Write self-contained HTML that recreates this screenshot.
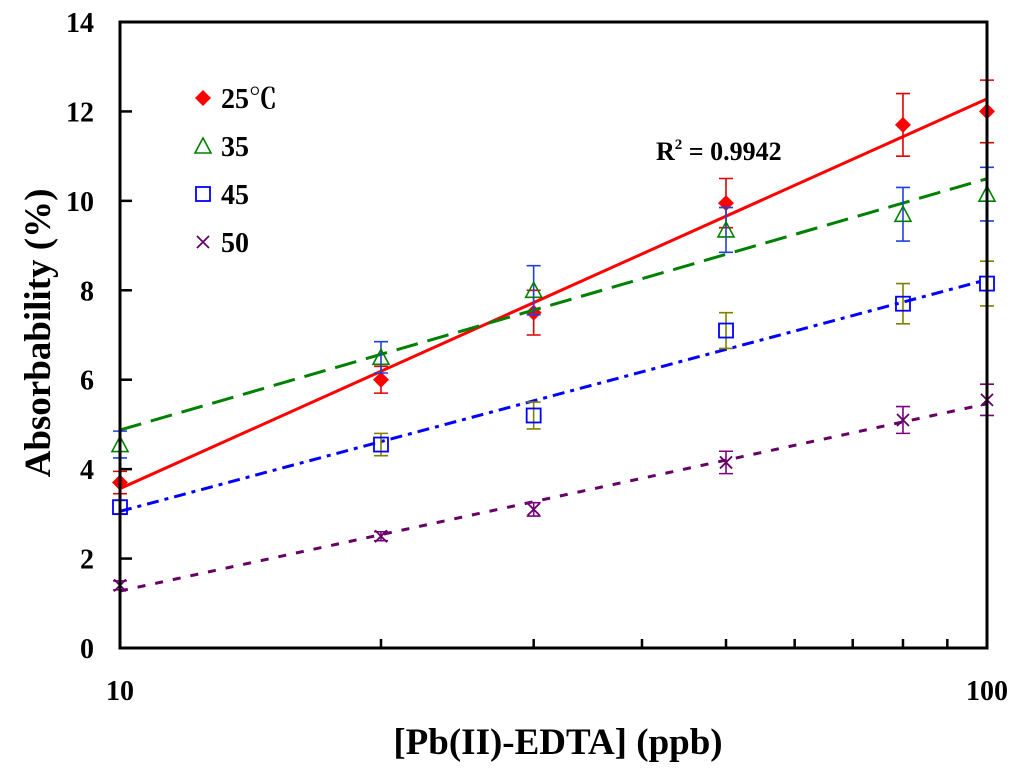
<!DOCTYPE html>
<html><head><meta charset="utf-8"><style>
body{margin:0;background:#fff;}
svg text{font-family:"Liberation Serif","Noto Serif CJK SC",serif;font-weight:bold;}
</style></head><body>
<svg id="chart" width="1024" height="774" viewBox="0 0 1024 774" xmlns="http://www.w3.org/2000/svg">
<g id="grid"></g>
<g id="marks"></g>
<g id="axes"></g>
<text x="558" y="754" text-anchor="middle" font-size="37">[Pb(II)-EDTA] (ppb)</text>
<text transform="translate(50,333) rotate(-90)" text-anchor="middle" font-size="37">Absorbability (%)</text>
<text x="656" y="160" font-size="26">R<tspan font-size="15" dy="-11">2</tspan><tspan dy="11"> = 0.9942</tspan></text>
<g id="legend"></g>
</svg>
<script>
const xValues = [10, 20, 30, 50, 80, 100];
const s25 = [3.7, 6.0, 7.5, 9.95, 11.7, 12.0];
const e25 = [0.25, 0.3, 0.5, 0.55, 0.7, 0.7];
const s35 = [4.55, 6.5, 8.0, 9.35, 9.7, 10.15];
const e35 = [0.3, 0.35, 0.55, 0.5, 0.6, 0.6];
const s45 = [3.15, 4.55, 5.2, 7.1, 7.7, 8.15];
const e45 = [0.15, 0.25, 0.3, 0.4, 0.45, 0.5];
const s50 = [1.4, 2.5, 3.1, 4.15, 5.1, 5.55];
const e50 = [0.1, 0.1, 0.15, 0.25, 0.3, 0.35];
const yTicks = [0, 2, 4, 6, 8, 10, 12, 14];
const xTickLabels = [10, 100];
const xMinorTicks = [20, 30, 40, 50, 60, 70, 80, 90];
const seriesNames = ["25℃", "35", "45", "50"];

const X0 = 120, X1 = 987, Y0 = 648, Y1 = 22;
const xs = v => X0 + (Math.log10(v) - 1) * (X1 - X0);
const ys = v => Y0 - v / 14 * (Y0 - Y1);
const NS = "http://www.w3.org/2000/svg";
function mk(tag, attrs, parent) {
  const e = document.createElementNS(NS, tag);
  for (const k in attrs) e.setAttribute(k, attrs[k]);
  parent.appendChild(e); return e;
}
const marks = document.getElementById('marks');
const axes = document.getElementById('axes');

function fit(vals) {
  const lx = xValues.map(v => Math.log10(v));
  const n = lx.length;
  const mx = lx.reduce((a, b) => a + b) / n, my = vals.reduce((a, b) => a + b) / n;
  let sxy = 0, sxx = 0;
  for (let i = 0; i < n; i++) { sxy += (lx[i] - mx) * (vals[i] - my); sxx += (lx[i] - mx) ** 2; }
  const b = sxy / sxx; return [my - b * mx, b];
}

const series = [
  {name: 'series-25c', vals: s25, err: e25, color: '#ff0000', errColor: '#e00000', dash: '', width: 3, marker: 'diamond'},
  {name: 'series-35', vals: s35, err: e35, color: '#008000', errColor: '#2040e0', dash: '22,10', width: 3, marker: 'triangle'},
  {name: 'series-45', vals: s45, err: e45, color: '#0000ff', errColor: '#808000', dash: '12,6,4,6', width: 3, marker: 'square'},
  {name: 'series-50', vals: s50, err: e50, color: '#660066', errColor: '#800080', dash: '8,10', width: 3, marker: 'cross'}
];

function drawMarker(g, type, cx, cy, color) {
  let m;
  if (type === 'diamond') m = mk('path', {d: `M${cx},${cy-8}L${cx+8},${cy}L${cx},${cy+8}L${cx-8},${cy}Z`, fill: color}, g);
  else if (type === 'triangle') m = mk('path', {d: `M${cx},${cy-8}L${cx+8},${cy+7}L${cx-8},${cy+7}Z`, fill: 'none', stroke: color, 'stroke-width': 1.6}, g);
  else if (type === 'square') m = mk('rect', {x: cx-7, y: cy-7, width: 14, height: 14, fill: 'none', stroke: color, 'stroke-width': 1.8}, g);
  else m = mk('path', {d: `M${cx-6},${cy-6}L${cx+6},${cy+6}M${cx+6},${cy-6}L${cx-6},${cy+6}`, stroke: color, 'stroke-width': 1.8}, g);
  return m;
}

series.forEach(s => {
  const g = mk('g', {}, marks);
  
  
  const [a, b] = fit(s.vals);
  const tl = mk('line', {x1: xs(10), y1: ys(a + b), x2: xs(100), y2: ys(a + 2 * b), stroke: s.color, 'stroke-width': s.width, 'stroke-dasharray': s.dash}, g);
  
  
  s.vals.forEach((v, i) => {
    const cx = xs(xValues[i]), e = s.err[i];
    const eb = mk('path', {d: `M${cx},${ys(v+e)}V${ys(v-e)}M${cx-7},${ys(v+e)}H${cx+7}M${cx-7},${ys(v-e)}H${cx+7}`, stroke: s.errColor, 'stroke-width': 1.6, fill: 'none'}, g);
    
    
    const m = drawMarker(g, s.marker, cx, ys(v), s.color);
    
    
  });
});

const box = mk('path', {d: `M${X0},${Y1}H${X1}V${Y0}H${X0}Z`, fill: 'none', stroke: '#000', 'stroke-width': 3}, axes);


yTicks.forEach(t => {
  const tk = mk('line', {x1: X0, x2: X0 + 12, y1: ys(t), y2: ys(t), stroke: '#000', 'stroke-width': 2.5}, axes);
  
  
  const tx = mk('text', {x: 94, y: ys(t) + 10, 'text-anchor': 'end', 'font-size': 28}, axes);
  tx.textContent = t;
  
  
});
xMinorTicks.forEach(t => {
  const tk = mk('line', {x1: xs(t), x2: xs(t), y1: Y0, y2: Y0 - 9, stroke: '#000', 'stroke-width': 2.5}, axes);
  
  
});
xTickLabels.forEach(t => {
  const tx = mk('text', {x: xs(t), y: 700, 'text-anchor': 'middle', 'font-size': 28}, axes);
  tx.textContent = t;
  
  
});

const lg = document.getElementById('legend');
series.forEach((s, i) => {
  const y = 98 + i * 48;
  const m = drawMarker(lg, s.marker, 203, y, s.color);
  
  
  const tx = mk('text', {x: 221, y: y + 10, 'font-size': 28}, lg);
  tx.textContent = seriesNames[i];
  
  
});
</script>
</body></html>
